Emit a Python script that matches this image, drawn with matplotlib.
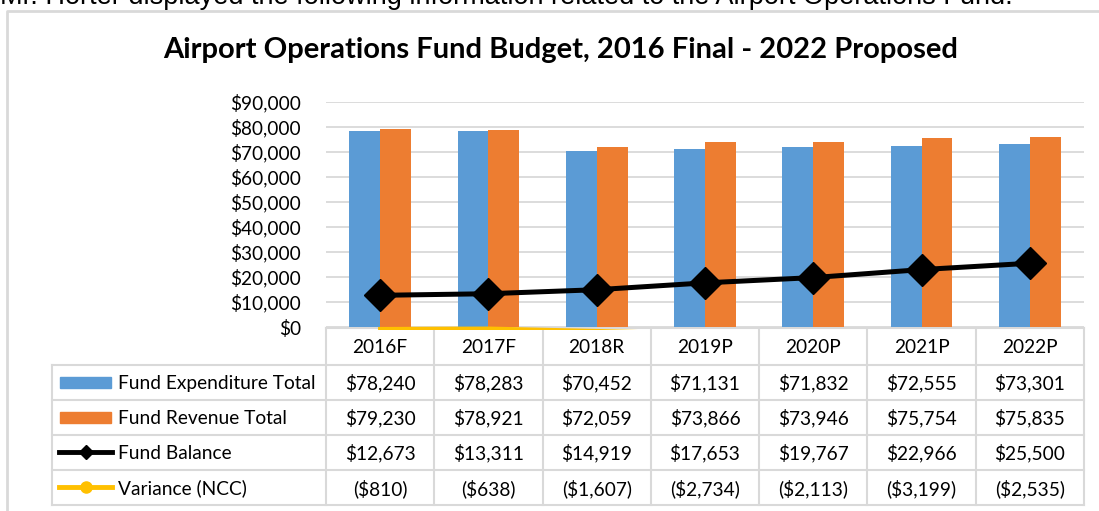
import matplotlib.pyplot as plt
from matplotlib.patches import Rectangle

W, H = 1099, 511

years = ['2016F', '2017F', '2018R', '2019P', '2020P', '2021P', '2022P']
expenditure = [78240, 78283, 70452, 71131, 71832, 72555, 73301]
revenue = [79230, 78921, 72059, 73866, 73946, 75754, 75835]
balance = [12673, 13311, 14919, 17653, 19767, 22966, 25500]
variance = [-810, -638, -1607, -2734, -2113, -3199, -2535]
y_ticks = [0, 10000, 20000, 30000, 40000, 50000, 60000, 70000, 80000, 90000]

BLUE = '#5B9BD5'
ORANGE = '#ED7D31'
YELLOW = '#FFC000'
GRID = '#D9D9D9'
FONT = 'Lato'
FS = 13.8


def money(v):
    if v < 0:
        return '(${:,})'.format(-v)
    return '${:,}'.format(v)


fig = plt.figure(figsize=(W / 100, H / 100), dpi=100)

# full-figure overlay in pixel coordinates (y down) for frame and table
ov = fig.add_axes([0, 0, 1, 1], zorder=0)
ov.set_xlim(0, W)
ov.set_ylim(H, 0)
ov.axis('off')

# plot area
L, R, T, B = 326, 1084, 102, 327
ax = fig.add_axes([L / W, (H - B) / H, (R - L) / W, (B - T) / H], zorder=2)
ax.patch.set_alpha(0)

x = list(range(len(years)))
bw = 0.285
ax.bar([i - bw / 2 for i in x], expenditure, bw, color=BLUE, zorder=3)
ax.bar([i + bw / 2 for i in x], revenue, bw, color=ORANGE, zorder=3)
ax.plot(x, balance, color='black', lw=3.6, marker='D', ms=16, zorder=5)

# variance line is mostly below the axis; Excel clips a little outside
vl, = ax.plot(x, variance, color=YELLOW, lw=3, zorder=4)
clip = Rectangle((0, -0.015), 1, 1.03, transform=ax.transAxes)
vl.set_clip_path(clip)

ax.set_xlim(-0.5, len(years) - 0.5)
ax.set_ylim(0, 90000)
ax.set_yticks(y_ticks)
ax.set_yticklabels([money(v) for v in y_ticks], fontsize=13.7, family=FONT)
ax.tick_params(axis='y', length=0, pad=18)
ax.tick_params(axis='x', length=0, labelbottom=False)
ax.grid(axis='y', color=GRID, lw=1.3, zorder=0)
for s in ax.spines.values():
    s.set_visible(False)

# chart frame
ov.plot([7, 7, W + 5], [H + 5, 11, 11], color=GRID, lw=2)

# title
ov.text(561, 50, 'Airport Operations Fund Budget, 2016 Final - 2022 Proposed',
        ha='center', va='center', fontsize=21, fontweight='bold', family=FONT)

# text above chart, cut off by top edge
ov.text(0, 4.5, 'Mr. Horter displayed the following information related to the Airport Operations Fund.',
        ha='left', va='baseline', fontsize=19.5, family='Liberation Sans')

# data table
pitch = (R - L) / len(years)
rows = [328, 365, 400, 435, 470, 505]
tl = 52
lc = dict(color=GRID, lw=1.5)
ov.plot([L, R], [rows[0], rows[0]], **lc)
for r in rows[1:]:
    ov.plot([tl, R], [r, r], **lc)
for i in range(len(years) + 1):
    xc = L + i * pitch
    ov.plot([xc, xc], [rows[0], rows[-1]], **lc)
ov.plot([tl, tl], [rows[1], rows[-1]], **lc)

for i, yr in enumerate(years):
    ov.text(L + (i + 0.5) * pitch, (rows[0] + rows[1]) / 2 + 1, yr,
            ha='center', va='center', fontsize=FS, family=FONT)

series = [('Fund Expenditure Total', expenditure),
          ('Fund Revenue Total', revenue),
          ('Fund Balance', balance),
          ('Variance (NCC)', variance)]
for r, (name, vals) in enumerate(series):
    yc = (rows[r + 1] + rows[r + 2]) / 2 + 1
    ov.text(118, yc, name, ha='left', va='center', fontsize=FS, family=FONT)
    for i, v in enumerate(vals):
        ov.text(L + (i + 0.5) * pitch, yc, money(v),
                ha='center', va='center', fontsize=FS, family=FONT)

# legend keys
y0 = (rows[1] + rows[2]) / 2
ov.add_patch(Rectangle((60, y0 - 5), 51, 11, color=BLUE))
y1 = (rows[2] + rows[3]) / 2
ov.add_patch(Rectangle((60, y1 - 5), 51, 11, color=ORANGE))
y2 = (rows[3] + rows[4]) / 2
ov.plot([59, 112], [y2, y2], color='black', lw=3.5)
ov.plot([86], [y2], marker='D', color='black', ms=7)
y3 = (rows[4] + rows[5]) / 2
ov.plot([59, 112], [y3, y3], color=YELLOW, lw=3.5)
ov.plot([86], [y3], marker='o', color=YELLOW, ms=8)

fig.savefig('out.png', dpi=100)
